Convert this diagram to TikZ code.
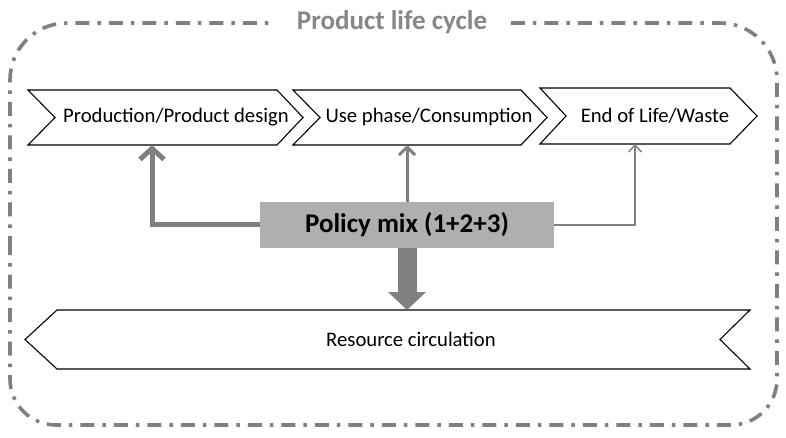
\documentclass[tikz,border=0pt]{standalone}
\usepackage{fontspec}
\setmainfont{Carlito}
\usetikzlibrary{arrows.meta}
\definecolor{framegray}{RGB}{128,128,128}
\definecolor{titlegray}{RGB}{135,135,135}
\definecolor{arrowgray}{RGB}{128,128,128}
\definecolor{boxgray}{RGB}{175,175,175}
\begin{document}
\begin{tikzpicture}[x=1pt,y=-1pt,
  chev/.style={draw=black, line width=1.1pt, fill=white, line join=miter},
  lbl/.style={font=\fontsize{20.7}{24}\selectfont, inner sep=0pt},
  conn/.style={draw=arrowgray}
]
\useasboundingbox (0,0) rectangle (786,438);
% frame
\draw[framegray, line width=3.6pt,
      dash pattern=on 14pt off 8pt on 3.5pt off 8pt]
  (10,250) [rounded corners=57pt] -- (10,23) -- (777,23) -- (777,250)
  [rounded corners=46pt] -- (777,425) -- (10,425) -- (10,250);
\node[fill=white, inner xsep=22pt, inner ysep=2pt, text=titlegray,
      font=\bfseries\fontsize{27}{31}\selectfont] (title) at (392,22) {Product life cycle};

% chevrons
\draw[chev] (28,90) -- (277,90) -- (303,117.5) -- (277,145) -- (28,145) -- (55,117.5) -- cycle;
\draw[chev] (293,90) -- (521,90) -- (547,117.5) -- (521,145) -- (293,145) -- (320,117.5) -- cycle;
\draw[chev] (540,88) -- (730,88) -- (757,116) -- (730,144) -- (540,144) -- (566,116) -- cycle;
\draw[chev] (25,339.5) -- (57,310) -- (750,310) -- (720,339.5) -- (750,369) -- (57,369) -- cycle;

\node[lbl] (prod) at (176,117) {Production/Product design};
\node[lbl] (use) at (429,117) {Use phase/Consumption};
\node[lbl] (eol) at (655,116) {End of Life/Waste};
\node[lbl] (res) at (411,339) {Resource circulation};

\coordinate (prodB) at (152,145);
\coordinate (useB) at (407,145);
\coordinate (eolB) at (635,144);
\coordinate (resT) at (407,310);

% policy box
\node[fill=boxgray, minimum width=294pt, minimum height=46pt, inner sep=0pt,
      font=\bfseries\fontsize{27}{31}\selectfont] (policy) at (407,225) {Policy mix (1+2+3)};

% connectors
\draw[conn, line width=5pt, -{Straight Barb[length=11pt,width=24pt]}] (policy.west) -| (prodB);
\draw[conn, line width=3pt, -{Straight Barb[length=8pt,width=16pt]}] (policy.north) -- (useB);
\draw[conn, line width=1.4pt, -{Straight Barb[length=7pt,width=13pt]}] (policy.east) -| (eolB);
\draw[conn, line width=19pt, -{Triangle[length=18pt,width=37pt]}] (policy.south) -- (resT);
\end{tikzpicture}
\end{document}
